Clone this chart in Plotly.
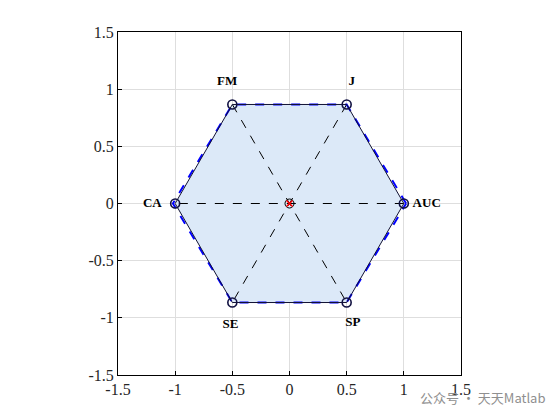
import numpy as np
import plotly.graph_objects as go

labels = ["AUC", "J", "FM", "CA", "SE", "SP"]
angles_deg = [0, 60, 120, 180, 240, 300]
values = [1.0, 1.0, 1.0, 1.0, 1.0, 1.0]
outer_values = [1.02, 1.0, 1.0, 1.02, 1.0, 1.0]
label_angles_deg = [0, 63, 117, 180, 244, 298]
label_radius = [1.2, 1.2, 1.2, 1.2, 1.18, 1.18]
ticks = [-1.5, -1, -0.5, 0, 0.5, 1, 1.5]
tick_text = ["-1.5", "-1", "-0.5", "0", "0.5", "1", "1.5"]

th = np.deg2rad(angles_deg)
vx = np.array(values) * np.cos(th)
vy = np.array(values) * np.sin(th)
ox = np.array(outer_values) * np.cos(th)
oy = np.array(outer_values) * np.sin(th)

fig = go.Figure()
fig.add_trace(go.Scatter(x=list(vx) + [vx[0]], y=list(vy) + [vy[0]], mode="lines",
                         fill="toself", fillcolor="#dce9f8",
                         line=dict(color="rgba(0,0,0,0)", width=0), hoverinfo="skip"))
for i in range(3):
    j = i + 3
    fig.add_trace(go.Scatter(x=[vx[i], vx[j]], y=[vy[i], vy[j]], mode="lines",
                             line=dict(color="black", width=1, dash="dash")))
fig.add_trace(go.Scatter(x=list(ox) + [ox[0]], y=list(oy) + [oy[0]], mode="lines",
                         line=dict(color="#0000ff", width=2, dash="dash")))
fig.add_trace(go.Scatter(x=list(vx) + [vx[0]], y=list(vy) + [vy[0]], mode="lines",
                         line=dict(color="#111133", width=1)))
fig.add_trace(go.Scatter(x=vx, y=vy, mode="markers",
                         marker=dict(symbol="circle-open", size=9, color="#101040",
                                     line=dict(width=1.6))))
fig.add_trace(go.Scatter(x=[0], y=[0], mode="markers",
                         marker=dict(symbol="circle-open", size=9, color="black", line=dict(width=1))))
fig.add_trace(go.Scatter(x=[0], y=[0], mode="markers",
                         marker=dict(symbol="x-thin-open", size=6, color="red", line=dict(width=1.5, color="red"))))
lth = np.deg2rad(label_angles_deg)
lr = np.array(label_radius)
fig.add_trace(go.Scatter(x=lr * np.cos(lth), y=lr * np.sin(lth), mode="text", text=labels,
                         textfont=dict(family="Liberation Serif", size=13, color="black"),
                         texttemplate="<b>%{text}</b>"))

axis_common = dict(range=[-1.5, 1.5], tickvals=ticks, ticktext=tick_text,
                   showgrid=True, gridcolor="#dedede", gridwidth=1,
                   showline=True, linecolor="black", linewidth=1, mirror=True,
                   ticks="inside", ticklen=4, tickcolor="black", zeroline=False,
                   automargin=False,
                   tickfont=dict(family="Liberation Serif", size=16, color="#262626"))
fig.update_xaxes(**axis_common)
fig.update_yaxes(**axis_common, scaleanchor="x", scaleratio=1)

fig.add_annotation(x=1.0, y=0.0, xref="paper", yref="paper", xanchor="right", yanchor="middle",
                   xshift=86, yshift=-22, showarrow=False,
                   text="公众号 · 天天Matlab",
                   font=dict(family="Noto Sans CJK SC", size=13, color="#8f8f8f"))

fig.update_layout(width=560, height=420, showlegend=False,
                  paper_bgcolor="white", plot_bgcolor="white",
                  margin=dict(l=110, r=107, t=24, b=53, autoexpand=False))
fig.write_html("out.html")
